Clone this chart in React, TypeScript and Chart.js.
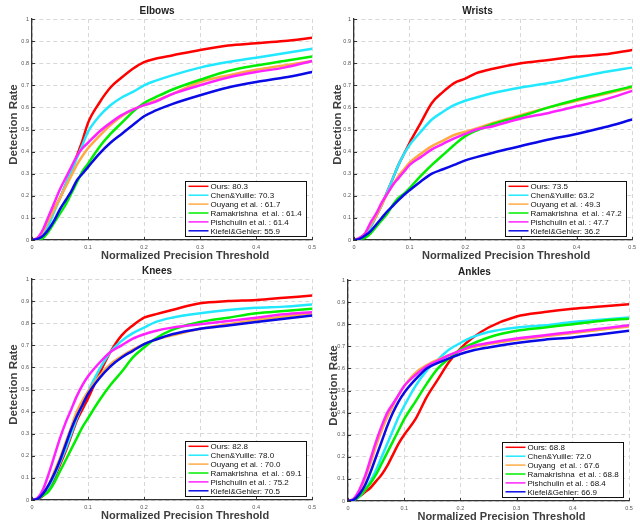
import React, { useEffect, useRef } from "react";
import { Chart, registerables } from "chart.js";
Chart.register(...registerables);

const thresholds = [0, 0.01, 0.02, 0.03, 0.04, 0.05, 0.06, 0.07, 0.08, 0.09, 0.1, 0.12, 0.14, 0.16, 0.18, 0.2, 0.22, 0.25, 0.3, 0.35, 0.4, 0.45, 0.5];
const xTicks = [0, 0.1, 0.2, 0.3, 0.4, 0.5];
const yTicks = [0, 0.1, 0.2, 0.3, 0.4, 0.5, 0.6, 0.7, 0.8, 0.9, 1];
const xTitle = "Normalized Precision Threshold";
const yTitle = "Detection Rate";

const methodColors = ["#ff0000", "#22e8ff", "#ffaa44", "#00ee00", "#ff22ff", "#0a0ae6"];

// Elbows
const elbowsOurs = [0, 0.005, 0.03, 0.08, 0.14, 0.19, 0.25, 0.31, 0.38, 0.45, 0.53, 0.62, 0.69, 0.735, 0.775, 0.805, 0.82, 0.835, 0.86, 0.88, 0.89, 0.9, 0.915];
const elbowsChen = [0, 0.005, 0.03, 0.07, 0.13, 0.19, 0.25, 0.31, 0.37, 0.43, 0.49, 0.56, 0.61, 0.645, 0.67, 0.7, 0.72, 0.745, 0.78, 0.805, 0.825, 0.845, 0.865];
const elbowsOuyang = [0, 0.01, 0.04, 0.09, 0.14, 0.19, 0.24, 0.29, 0.34, 0.38, 0.415, 0.47, 0.52, 0.56, 0.59, 0.61, 0.63, 0.66, 0.715, 0.745, 0.77, 0.79, 0.81];
const elbowsRama = [0, 0, 0.01, 0.04, 0.08, 0.12, 0.16, 0.21, 0.26, 0.31, 0.345, 0.42, 0.48, 0.53, 0.58, 0.62, 0.645, 0.68, 0.725, 0.765, 0.79, 0.81, 0.83];
const elbowsPish = [0, 0.01, 0.05, 0.11, 0.17, 0.23, 0.28, 0.33, 0.38, 0.415, 0.44, 0.49, 0.53, 0.565, 0.59, 0.61, 0.625, 0.66, 0.7, 0.735, 0.76, 0.78, 0.81];
const elbowsKiefel = [0, 0.005, 0.02, 0.05, 0.09, 0.14, 0.18, 0.22, 0.27, 0.3, 0.33, 0.39, 0.44, 0.48, 0.52, 0.56, 0.585, 0.615, 0.655, 0.69, 0.715, 0.735, 0.76];
const elbowsLegend = ["Ours: 80.3", "Chen&Yuille: 70.3", "Ouyang et al. : 61.7", "Ramakrishna  et al. : 61.4", "Pishchulin et al. : 61.4", "Kiefel&Gehler: 55.9"];

// Wrists
const wristsOurs = [0, 0.005, 0.02, 0.06, 0.11, 0.16, 0.22, 0.28, 0.34, 0.39, 0.44, 0.53, 0.62, 0.67, 0.71, 0.73, 0.755, 0.775, 0.8, 0.815, 0.83, 0.84, 0.86];
const wristsChen = [0, 0.005, 0.02, 0.06, 0.11, 0.16, 0.22, 0.28, 0.34, 0.39, 0.43, 0.49, 0.545, 0.58, 0.61, 0.63, 0.645, 0.665, 0.69, 0.71, 0.735, 0.76, 0.78];
const wristsOuyang = [0, 0.01, 0.03, 0.07, 0.11, 0.16, 0.21, 0.25, 0.29, 0.32, 0.35, 0.39, 0.425, 0.45, 0.475, 0.49, 0.505, 0.53, 0.565, 0.6, 0.63, 0.66, 0.69];
const wristsRama = [0, 0.005, 0.01, 0.03, 0.06, 0.09, 0.12, 0.16, 0.19, 0.21, 0.235, 0.29, 0.34, 0.385, 0.43, 0.47, 0.495, 0.525, 0.56, 0.6, 0.635, 0.665, 0.695];
const wristsPish = [0, 0.01, 0.03, 0.08, 0.12, 0.17, 0.21, 0.25, 0.28, 0.31, 0.34, 0.375, 0.41, 0.435, 0.46, 0.48, 0.5, 0.515, 0.55, 0.575, 0.605, 0.635, 0.675];
const wristsKiefel = [0, 0.005, 0.02, 0.04, 0.07, 0.1, 0.13, 0.155, 0.18, 0.205, 0.225, 0.265, 0.3, 0.32, 0.34, 0.36, 0.375, 0.395, 0.425, 0.455, 0.48, 0.51, 0.545];
const wristsLegend = ["Ours: 73.5", "Chen&Yuille: 63.2", "Ouyang et al. : 49.3", "Ramakrishna  et al. : 47.2", "Pishchulin et al. : 47.7", "Kiefel&Gehler: 36.2"];

// Knees
const kneesOurs = [0, 0.005, 0.02, 0.05, 0.1, 0.16, 0.22, 0.29, 0.36, 0.41, 0.46, 0.57, 0.67, 0.745, 0.79, 0.825, 0.84, 0.86, 0.89, 0.9, 0.905, 0.915, 0.925];
const kneesChen = [0, 0.005, 0.03, 0.06, 0.11, 0.17, 0.23, 0.3, 0.37, 0.43, 0.49, 0.59, 0.67, 0.72, 0.755, 0.78, 0.805, 0.825, 0.845, 0.86, 0.87, 0.875, 0.885];
const kneesOuyang = [0, 0.005, 0.03, 0.07, 0.13, 0.19, 0.26, 0.33, 0.4, 0.45, 0.49, 0.56, 0.615, 0.65, 0.68, 0.705, 0.725, 0.745, 0.775, 0.795, 0.815, 0.83, 0.845];
const kneesRama = [0, 0.005, 0.02, 0.04, 0.08, 0.13, 0.18, 0.23, 0.28, 0.33, 0.37, 0.45, 0.52, 0.58, 0.645, 0.69, 0.73, 0.77, 0.805, 0.825, 0.845, 0.855, 0.865];
const kneesPish = [0, 0.01, 0.05, 0.12, 0.2, 0.28, 0.35, 0.41, 0.47, 0.52, 0.56, 0.62, 0.67, 0.7, 0.73, 0.75, 0.765, 0.78, 0.795, 0.81, 0.825, 0.84, 0.85];
const kneesKiefel = [0, 0.005, 0.03, 0.07, 0.12, 0.18, 0.25, 0.32, 0.38, 0.43, 0.48, 0.55, 0.605, 0.645, 0.675, 0.705, 0.725, 0.75, 0.775, 0.79, 0.805, 0.82, 0.835];
const kneesLegend = ["Ours: 82.8", "Chen&Yuille: 78.0", "Ouyang et al. : 70.0", "Ramakrishna  et al. : 69.1", "Pishchulin et al. : 75.2", "Kiefel&Gehler: 70.5"];

// Ankles
const anklesOurs = [0, 0.005, 0.02, 0.04, 0.06, 0.09, 0.12, 0.16, 0.21, 0.26, 0.3, 0.37, 0.47, 0.55, 0.63, 0.69, 0.735, 0.785, 0.835, 0.855, 0.87, 0.88, 0.89];
const anklesChen = [0, 0.005, 0.02, 0.05, 0.09, 0.14, 0.2, 0.26, 0.32, 0.38, 0.43, 0.52, 0.59, 0.64, 0.685, 0.715, 0.74, 0.765, 0.785, 0.795, 0.81, 0.82, 0.83];
const anklesOuyang = [0, 0.01, 0.04, 0.1, 0.17, 0.25, 0.32, 0.38, 0.43, 0.48, 0.52, 0.58, 0.615, 0.64, 0.66, 0.68, 0.695, 0.71, 0.73, 0.745, 0.76, 0.775, 0.79];
const anklesRama = [0, 0.005, 0.02, 0.05, 0.08, 0.12, 0.17, 0.22, 0.27, 0.32, 0.37, 0.45, 0.53, 0.6, 0.645, 0.685, 0.71, 0.74, 0.77, 0.785, 0.8, 0.815, 0.825];
const anklesPish = [0, 0.01, 0.05, 0.11, 0.19, 0.27, 0.34, 0.4, 0.44, 0.48, 0.52, 0.57, 0.61, 0.635, 0.66, 0.68, 0.7, 0.715, 0.735, 0.75, 0.765, 0.78, 0.795];
const anklesKiefel = [0, 0.005, 0.03, 0.07, 0.13, 0.2, 0.27, 0.34, 0.4, 0.45, 0.49, 0.55, 0.6, 0.625, 0.645, 0.665, 0.68, 0.695, 0.715, 0.73, 0.74, 0.755, 0.77];
const anklesLegend = ["Ours: 68.8", "Chen&Yuille: 72.0", "Ouyang  et al. : 67.6", "Ramakrishna  et al. : 68.8", "Pishchulin et al. : 68.4", "Kiefel&Gehler: 66.9"];

type PanelProps = {
  title: string;
  series: number[][];
  legend: string[];
  left: number;
  top: number;
  yWidth: number;
  rightPad: number;
  yTitleX: number;
};

function fmt(v: number) {
  return String(Math.round(v * 10) / 10);
}

const FONT = "'Liberation Sans', Arial, sans-serif";

function Panel(p: PanelProps) {
  const ref = useRef<HTMLCanvasElement | null>(null);
  useEffect(() => {
    if (!ref.current) return;
    const decorPlugin = {
      id: "decor",
      afterDraw(chart: any) {
        const { ctx, chartArea } = chart;
        const xs = chart.scales.x;
        const ys = chart.scales.y;
        ctx.save();
        // inward tick marks
        ctx.strokeStyle = "#333";
        ctx.lineWidth = 1;
        ctx.beginPath();
        xTicks.forEach((v) => {
          const px = Math.round(xs.getPixelForValue(v)) + 0.5;
          ctx.moveTo(px, chartArea.bottom);
          ctx.lineTo(px, chartArea.bottom - 3);
        });
        yTicks.forEach((v) => {
          const py = Math.round(ys.getPixelForValue(v)) + 0.5;
          ctx.moveTo(chartArea.left, py);
          ctx.lineTo(chartArea.left + 3, py);
        });
        ctx.stroke();
        // axis titles
        ctx.fillStyle = "#3e3e3e";
        ctx.font = "bold 11px " + FONT;
        ctx.textAlign = "center";
        ctx.textBaseline = "alphabetic";
        ctx.fillText(xTitle, (chartArea.left + chartArea.right) / 2 + 13, chartArea.bottom + 19);
        ctx.translate(p.yTitleX, (chartArea.top + chartArea.bottom) / 2 - 5);
        ctx.rotate(-Math.PI / 2);
        ctx.font = "bold 11.5px " + FONT;
        ctx.textBaseline = "middle";
        ctx.fillText(yTitle, 0, 0);
        ctx.restore();
      },
    };
    const legendPlugin = {
      id: "boxLegend",
      afterDatasetsDraw(chart: any) {
        const { ctx, chartArea } = chart;
        const w = 121, h = 55;
        const x0 = Math.round(chartArea.right - 6 - w) + 0.5;
        const y0 = Math.round(chartArea.bottom - 4 - h) + 0.5;
        ctx.save();
        ctx.fillStyle = "#ffffff";
        ctx.fillRect(x0, y0, w, h);
        ctx.strokeStyle = "#111111";
        ctx.lineWidth = 1;
        ctx.strokeRect(x0, y0, w, h);
        ctx.font = "8px " + FONT;
        ctx.textBaseline = "middle";
        ctx.textAlign = "left";
        p.legend.forEach((label, i) => {
          const cy = y0 + 4.8 + i * 8.9;
          ctx.strokeStyle = methodColors[i];
          ctx.lineWidth = 1.5;
          ctx.beginPath();
          ctx.moveTo(x0 + 3, cy);
          ctx.lineTo(x0 + 23, cy);
          ctx.stroke();
          ctx.fillStyle = "#111111";
          ctx.fillText(label, x0 + 25, cy + 0.5);
        });
        ctx.restore();
      },
    };
    const chart = new Chart(ref.current, {
      type: "line",
      data: {
        datasets: p.series.map((s, i) => ({
          label: p.legend[i],
          data: s.map((y, j) => ({ x: thresholds[j], y })),
          borderColor: methodColors[i],
          backgroundColor: methodColors[i],
          borderWidth: 2.5,
          pointRadius: 0,
          cubicInterpolationMode: "monotone" as const,
          fill: false,
          order: 5 - i,
        })),
      },
      options: {
        responsive: false,
        animation: false,
        events: [],
        layout: { padding: { left: 0, right: p.rightPad, top: 0, bottom: 0 } },
        plugins: {
          legend: { display: false },
          tooltip: { enabled: false },
          title: {
            display: true,
            text: p.title,
            color: "#222",
            font: { family: FONT, size: 10, weight: "bold" },
            padding: { top: 5, bottom: 2 },
          },
        },
        scales: {
          x: {
            type: "linear",
            min: 0,
            max: 0.5,
            afterFit(scale: any) {
              scale.height = 20;
            },
            afterBuildTicks(scale: any) {
              scale.ticks = xTicks.map((v) => ({ value: v }));
            },
            ticks: {
              callback: (v: any) => fmt(Number(v)),
              font: { family: FONT, size: 5.5 },
              color: "#555",
              padding: 4,
              maxRotation: 0,
              autoSkip: false,
            },
            grid: { color: "#d8d8d8", lineWidth: 1, drawTicks: false },
            border: { display: true, color: "#333", width: 1.3, dash: [4, 3] },
            title: { display: false },
          },
          y: {
            type: "linear",
            min: 0,
            max: 1,
            afterFit(scale: any) {
              scale.width = p.yWidth;
            },
            afterBuildTicks(scale: any) {
              scale.ticks = yTicks.map((v) => ({ value: v }));
            },
            ticks: {
              callback: (v: any) => fmt(Number(v)),
              font: { family: FONT, size: 5.5 },
              color: "#555",
              padding: 3,
              autoSkip: false,
            },
            grid: { color: "#d8d8d8", lineWidth: 1, drawTicks: false },
            border: { display: true, color: "#333", width: 1.3, dash: [4, 3] },
            title: { display: false },
          },
        },
      },
      plugins: [legendPlugin, decorPlugin],
    } as any);
    return () => chart.destroy();
  }, []);
  return (
    <canvas
      ref={ref}
      width={320}
      height={260}
      style={{ position: "absolute", left: p.left, top: p.top, width: 320, height: 260 }}
    />
  );
}

export default function App() {
  useEffect(() => {
    document.body.style.margin = "0";
    document.body.style.background = "#ffffff";
  }, []);
  return (
    <div style={{ position: "relative", width: 640, height: 521, background: "#fff", overflow: "hidden" }}>
      <Panel
        title="Elbows"
        series={[elbowsOurs, elbowsChen, elbowsOuyang, elbowsRama, elbowsPish, elbowsKiefel]}
        legend={elbowsLegend}
        left={0}
        top={0}
        yWidth={32}
        rightPad={6}
        yTitleX={13.5}
      />
      <Panel
        title="Wrists"
        series={[wristsOurs, wristsChen, wristsOuyang, wristsRama, wristsPish, wristsKiefel]}
        legend={wristsLegend}
        left={320}
        top={0}
        yWidth={34}
        rightPad={5}
        yTitleX={18}
      />
      <Panel
        title="Knees"
        series={[kneesOurs, kneesChen, kneesOuyang, kneesRama, kneesPish, kneesKiefel]}
        legend={kneesLegend}
        left={0}
        top={260}
        yWidth={32}
        rightPad={6}
        yTitleX={13.5}
      />
      <Panel
        title="Ankles"
        series={[anklesOurs, anklesChen, anklesOuyang, anklesRama, anklesPish, anklesKiefel]}
        legend={anklesLegend}
        left={320}
        top={261}
        yWidth={28}
        rightPad={11}
        yTitleX={14}
      />
    </div>
  );
}
